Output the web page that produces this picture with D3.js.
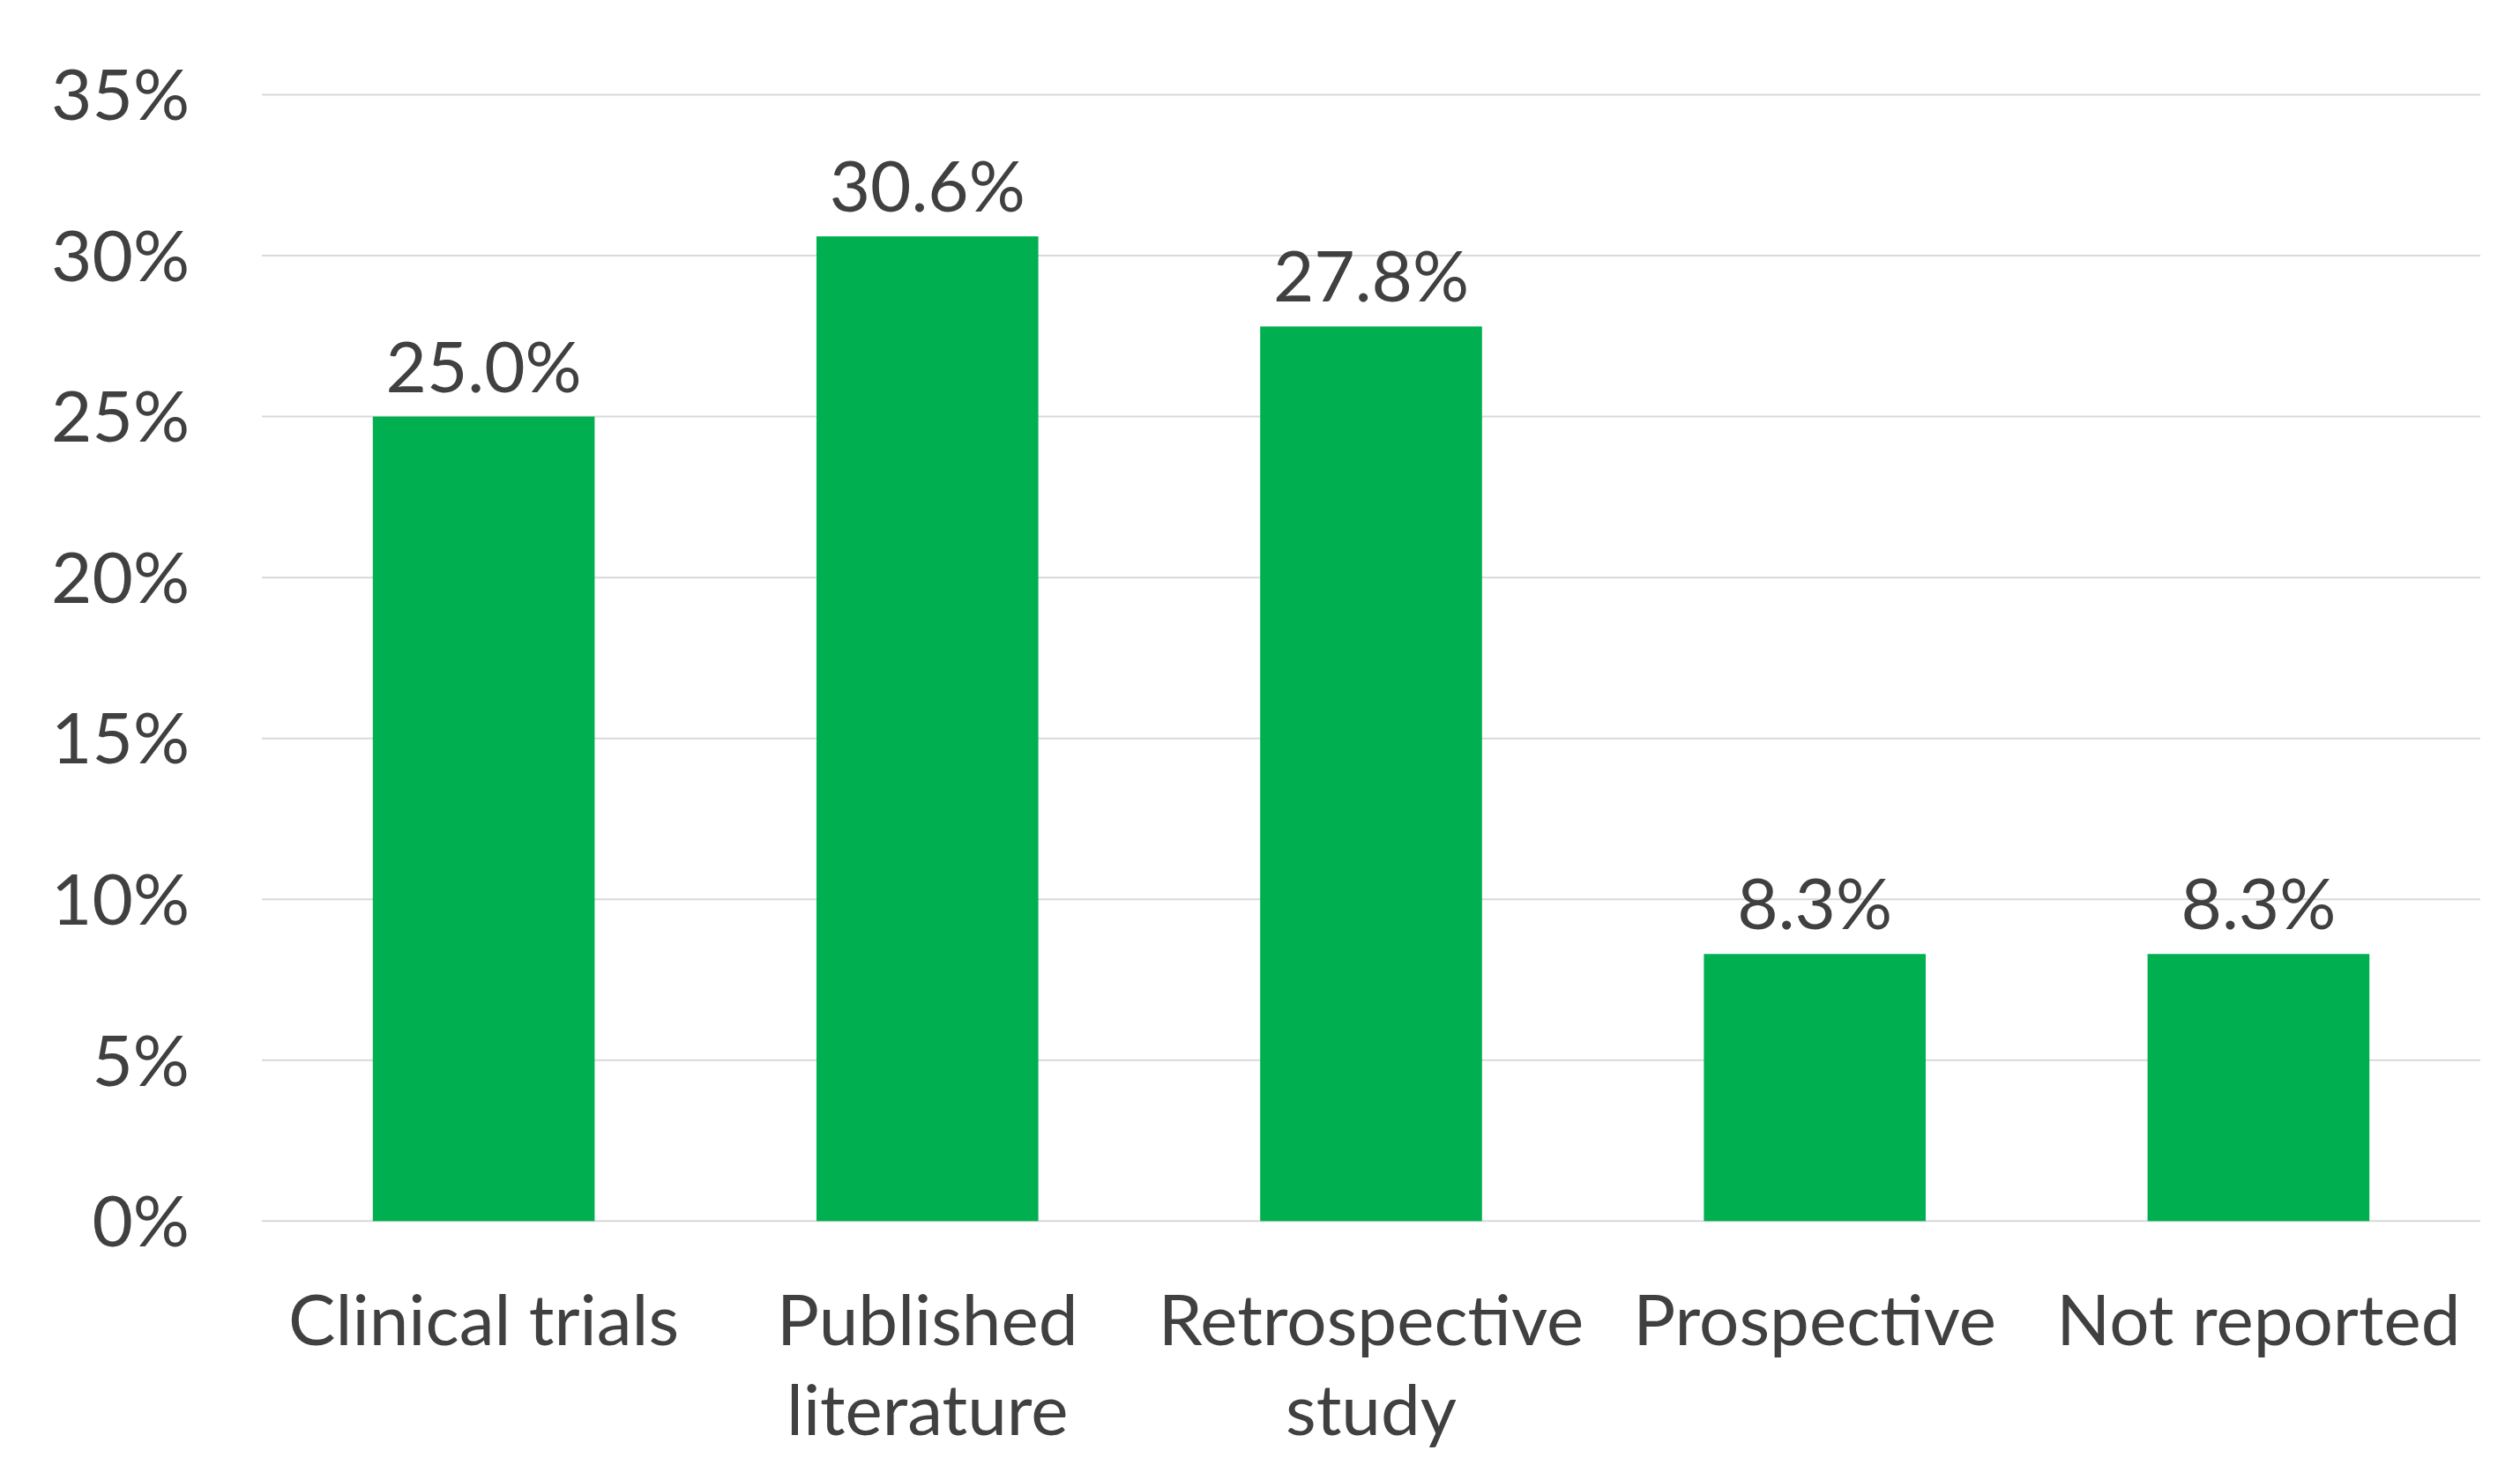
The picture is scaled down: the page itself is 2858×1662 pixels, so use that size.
<!DOCTYPE html>
<html>
<head>
<meta charset="utf-8">
<script src="https://cdn.jsdelivr.net/npm/d3@7"></script>
<style>
  html, body { margin: 0; padding: 0; background: #ffffff; }
  svg { display: block; }
</style>
</head>
<body>
<svg id="chart" width="2858" height="1662"></svg>
<script>
const categories = ["Clinical trials", "Published\nliterature", "Retrospective\nstudy", "Prospective", "Not reported"];
const values = [25.0, 30.6, 27.8, 8.3, 8.3];
const valueLabels = ["25.0%", "30.6%", "27.8%", "8.3%", "8.3%"];
const yTicks = [0, 5, 10, 15, 20, 25, 30, 35];
const yTickLabels = ["0%", "5%", "10%", "15%", "20%", "25%", "30%", "35%"];

const W = 2858, H = 1662;
const margin = { left: 297, right: W - 2813, top: 107.5, bottom: H - 1385.3 };
const FONT = "Lato, 'Open Sans', sans-serif";
const TEXT = "#404040";
const FS = 80;

const svg = d3.select("#chart");
svg.append("rect").attr("width", W).attr("height", H).attr("fill", "#ffffff");

const x = d3.scaleBand()
  .domain(categories)
  .range([margin.left, W - margin.right])
  .paddingInner(0.5)
  .paddingOuter(0.25);

const y = d3.scaleLinear()
  .domain([0, 35])
  .range([H - margin.bottom, margin.top]);

// gridlines
svg.append("g").selectAll("line")
  .data(yTicks)
  .join("line")
  .attr("x1", margin.left)
  .attr("x2", W - margin.right)
  .attr("y1", d => y(d))
  .attr("y2", d => y(d))
  .attr("stroke", "#d9d9d9")
  .attr("stroke-width", 2);

// y tick labels
svg.append("g").selectAll("text")
  .data(yTicks)
  .join("text")
  .attr("x", 215)
  .attr("y", d => y(d))
  .attr("dy", "0.36em")
  .attr("text-anchor", "end")
  .attr("font-family", FONT)
  .attr("font-size", FS)
  .attr("fill", TEXT)
  .text((d, i) => yTickLabels[i]);

// bars
svg.append("g").selectAll("rect")
  .data(values)
  .join("rect")
  .attr("x", (d, i) => x(categories[i]))
  .attr("width", x.bandwidth())
  .attr("y", d => y(d))
  .attr("height", d => y(0) - y(d))
  .attr("fill", "#00b050");

// value labels
svg.append("g").selectAll("text")
  .data(values)
  .join("text")
  .attr("x", (d, i) => x(categories[i]) + x.bandwidth() / 2)
  .attr("y", d => y(d) - 28)
  .attr("text-anchor", "middle")
  .attr("font-family", FONT)
  .attr("font-size", FS)
  .attr("fill", TEXT)
  .text((d, i) => valueLabels[i]);

// x category labels
const xl = svg.append("g").selectAll("text")
  .data(categories)
  .join("text")
  .attr("x", d => x(d) + x.bandwidth() / 2)
  .attr("y", y(0) + 141)
  .attr("text-anchor", "middle")
  .attr("font-family", FONT)
  .attr("font-size", FS)
  .attr("fill", TEXT);
xl.each(function(d) {
  const t = d3.select(this);
  d.split("\n").forEach((line, j) => {
    t.append("tspan")
      .attr("x", x(d) + x.bandwidth() / 2)
      .attr("dy", j === 0 ? 0 : 102)
      .text(line);
  });
});
</script>
</body>
</html>
